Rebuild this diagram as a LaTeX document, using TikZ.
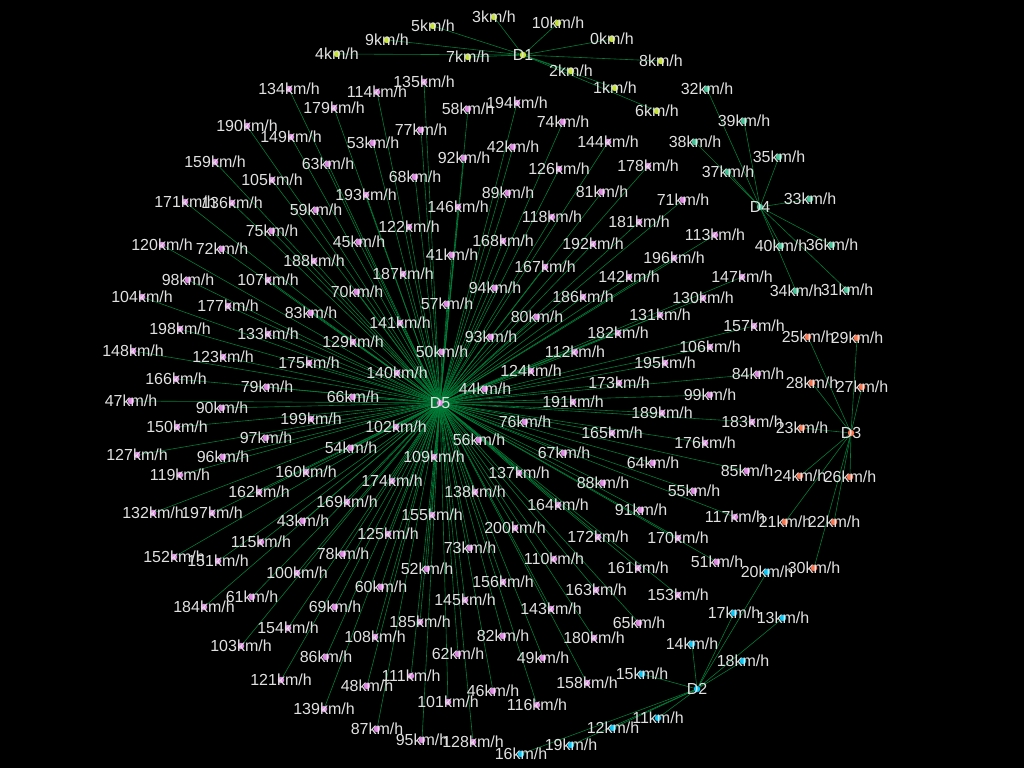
\documentclass[tikz,border=0pt]{standalone}
\usepackage{fontspec}
\setmainfont{Liberation Sans}
\usetikzlibrary{backgrounds}
\definecolor{linkgreen}{RGB}{0,125,55}
\definecolor{labgray}{RGB}{225,225,225}
\definecolor{cone}{RGB}{195,225,45}
\definecolor{ctwo}{RGB}{0,200,250}
\definecolor{cthree}{RGB}{255,115,75}
\definecolor{cfour}{RGB}{60,195,150}
\definecolor{cfive}{RGB}{225,130,230}
\begin{document}
\begin{tikzpicture}[x=1pt, y=-1pt, font=\fontsize{16}{18}\selectfont,
	spotbase/.style={circle, inner sep=0pt, minimum size=6.5pt},
	spot/.style={spotbase, label={[lab]center:#1km/h}},
	hub/.style={spotbase, label={[lab]center:#1}},
	lab/.style={text=labgray, inner sep=0pt},
	link/.style={draw=linkgreen, line width=0.6pt}]
	\useasboundingbox (0, 0) rectangle (1024, 768);
	
	% D1
	\node[hub=D1, fill=cone] (D1) at (523, 55) {};
	\node[spot=0, fill=cone] (s0) at (612, 39) {};
	\node[spot=1, fill=cone] (s1) at (615, 88) {};
	\node[spot=2, fill=cone] (s2) at (571, 71) {};
	\node[spot=3, fill=cone] (s3) at (494, 17) {};
	\node[spot=4, fill=cone] (s4) at (337, 54) {};
	\node[spot=5, fill=cone] (s5) at (433, 26) {};
	\node[spot=6, fill=cone] (s6) at (657, 111) {};
	\node[spot=7, fill=cone] (s7) at (468, 57) {};
	\node[spot=8, fill=cone] (s8) at (661, 61) {};
	\node[spot=9, fill=cone] (s9) at (387, 40) {};
	\node[spot=10, fill=cone] (s10) at (558, 23) {};
	
	% D2
	\node[hub=D2, fill=ctwo] (D2) at (697, 689) {};
	\node[spot=11, fill=ctwo] (s11) at (658, 718) {};
	\node[spot=12, fill=ctwo] (s12) at (613, 728) {};
	\node[spot=13, fill=ctwo] (s13) at (783, 618) {};
	\node[spot=14, fill=ctwo] (s14) at (692, 644) {};
	\node[spot=15, fill=ctwo] (s15) at (642, 674) {};
	\node[spot=16, fill=ctwo] (s16) at (521, 754) {};
	\node[spot=17, fill=ctwo] (s17) at (734, 613) {};
	\node[spot=18, fill=ctwo] (s18) at (743, 661) {};
	\node[spot=19, fill=ctwo] (s19) at (571, 745) {};
	\node[spot=20, fill=ctwo] (s20) at (767, 572) {};
	
	% D3
	\node[hub=D3, fill=cthree] (D3) at (851, 433) {};
	\node[spot=21, fill=cthree] (s21) at (785, 522) {};
	\node[spot=22, fill=cthree] (s22) at (834, 522) {};
	\node[spot=23, fill=cthree] (s23) at (802, 428) {};
	\node[spot=24, fill=cthree] (s24) at (800, 476) {};
	\node[spot=25, fill=cthree] (s25) at (808, 337) {};
	\node[spot=26, fill=cthree] (s26) at (850, 477) {};
	\node[spot=27, fill=cthree] (s27) at (862, 387) {};
	\node[spot=28, fill=cthree] (s28) at (812, 383) {};
	\node[spot=29, fill=cthree] (s29) at (857, 338) {};
	\node[spot=30, fill=cthree] (s30) at (814, 568) {};
	
	% D4
	\node[hub=D4, fill=cfour] (D4) at (760, 207) {};
	\node[spot=31, fill=cfour] (s31) at (847, 290) {};
	\node[spot=32, fill=cfour] (s32) at (707, 89) {};
	\node[spot=33, fill=cfour] (s33) at (810, 199) {};
	\node[spot=34, fill=cfour] (s34) at (796, 291) {};
	\node[spot=35, fill=cfour] (s35) at (779, 157) {};
	\node[spot=36, fill=cfour] (s36) at (832, 245) {};
	\node[spot=37, fill=cfour] (s37) at (728, 172) {};
	\node[spot=38, fill=cfour] (s38) at (695, 142) {};
	\node[spot=39, fill=cfour] (s39) at (744, 121) {};
	\node[spot=40, fill=cfour] (s40) at (781, 246) {};
	
	% D5
	\node[hub=D5, fill=cfive] (D5) at (440, 403) {};
	\node[spot=41, fill=cfive] (s41) at (452, 255) {};
	\node[spot=42, fill=cfive] (s42) at (513, 147) {};
	\node[spot=43, fill=cfive] (s43) at (303, 521) {};
	\node[spot=44, fill=cfive] (s44) at (485, 389) {};
	\node[spot=45, fill=cfive] (s45) at (359, 242) {};
	\node[spot=46, fill=cfive] (s46) at (493, 691) {};
	\node[spot=47, fill=cfive] (s47) at (131, 401) {};
	\node[spot=48, fill=cfive] (s48) at (367, 686) {};
	\node[spot=49, fill=cfive] (s49) at (543, 658) {};
	\node[spot=50, fill=cfive] (s50) at (442, 352) {};
	\node[spot=51, fill=cfive] (s51) at (717, 562) {};
	\node[spot=52, fill=cfive] (s52) at (427, 569) {};
	\node[spot=53, fill=cfive] (s53) at (373, 143) {};
	\node[spot=54, fill=cfive] (s54) at (351, 448) {};
	\node[spot=55, fill=cfive] (s55) at (694, 491) {};
	\node[spot=56, fill=cfive] (s56) at (479, 440) {};
	\node[spot=57, fill=cfive] (s57) at (447, 304) {};
	\node[spot=58, fill=cfive] (s58) at (468, 109) {};
	\node[spot=59, fill=cfive] (s59) at (316, 210) {};
	\node[spot=60, fill=cfive] (s60) at (381, 587) {};
	\node[spot=61, fill=cfive] (s61) at (252, 597) {};
	\node[spot=62, fill=cfive] (s62) at (458, 654) {};
	\node[spot=63, fill=cfive] (s63) at (328, 164) {};
	\node[spot=64, fill=cfive] (s64) at (653, 463) {};
	\node[spot=65, fill=cfive] (s65) at (639, 623) {};
	\node[spot=66, fill=cfive] (s66) at (353, 397) {};
	\node[spot=67, fill=cfive] (s67) at (564, 453) {};
	\node[spot=68, fill=cfive] (s68) at (415, 177) {};
	\node[spot=69, fill=cfive] (s69) at (335, 607) {};
	\node[spot=70, fill=cfive] (s70) at (357, 292) {};
	\node[spot=71, fill=cfive] (s71) at (683, 200) {};
	\node[spot=72, fill=cfive] (s72) at (222, 249) {};
	\node[spot=73, fill=cfive] (s73) at (470, 548) {};
	\node[spot=74, fill=cfive] (s74) at (563, 122) {};
	\node[spot=75, fill=cfive] (s75) at (272, 231) {};
	\node[spot=76, fill=cfive] (s76) at (525, 422) {};
	\node[spot=77, fill=cfive] (s77) at (421, 130) {};
	\node[spot=78, fill=cfive] (s78) at (343, 554) {};
	\node[spot=79, fill=cfive] (s79) at (267, 387) {};
	\node[spot=80, fill=cfive] (s80) at (537, 317) {};
	\node[spot=81, fill=cfive] (s81) at (602, 192) {};
	\node[spot=82, fill=cfive] (s82) at (503, 636) {};
	\node[spot=83, fill=cfive] (s83) at (311, 313) {};
	\node[spot=84, fill=cfive] (s84) at (758, 374) {};
	\node[spot=85, fill=cfive] (s85) at (747, 471) {};
	\node[spot=86, fill=cfive] (s86) at (326, 657) {};
	\node[spot=87, fill=cfive] (s87) at (377, 729) {};
	\node[spot=88, fill=cfive] (s88) at (603, 483) {};
	\node[spot=89, fill=cfive] (s89) at (508, 193) {};
	\node[spot=90, fill=cfive] (s90) at (222, 408) {};
	\node[spot=91, fill=cfive] (s91) at (641, 510) {};
	\node[spot=92, fill=cfive] (s92) at (464, 158) {};
	\node[spot=93, fill=cfive] (s93) at (491, 337) {};
	\node[spot=94, fill=cfive] (s94) at (495, 288) {};
	\node[spot=95, fill=cfive] (s95) at (422, 740) {};
	\node[spot=96, fill=cfive] (s96) at (223, 457) {};
	\node[spot=97, fill=cfive] (s97) at (266, 438) {};
	\node[spot=98, fill=cfive] (s98) at (188, 280) {};
	\node[spot=99, fill=cfive] (s99) at (710, 395) {};
	\node[spot=100, fill=cfive] (s100) at (297, 573) {};
	\node[spot=101, fill=cfive] (s101) at (448, 702) {};
	\node[spot=102, fill=cfive] (s102) at (396, 427) {};
	\node[spot=103, fill=cfive] (s103) at (241, 646) {};
	\node[spot=104, fill=cfive] (s104) at (142, 297) {};
	\node[spot=105, fill=cfive] (s105) at (272, 180) {};
	\node[spot=106, fill=cfive] (s106) at (710, 347) {};
	\node[spot=107, fill=cfive] (s107) at (268, 280) {};
	\node[spot=108, fill=cfive] (s108) at (375, 637) {};
	\node[spot=109, fill=cfive] (s109) at (434, 457) {};
	\node[spot=110, fill=cfive] (s110) at (554, 559) {};
	\node[spot=111, fill=cfive] (s111) at (411, 676) {};
	\node[spot=112, fill=cfive] (s112) at (575, 352) {};
	\node[spot=113, fill=cfive] (s113) at (715, 235) {};
	\node[spot=114, fill=cfive] (s114) at (377, 92) {};
	\node[spot=115, fill=cfive] (s115) at (261, 542) {};
	\node[spot=116, fill=cfive] (s116) at (537, 705) {};
	\node[spot=117, fill=cfive] (s117) at (735, 517) {};
	\node[spot=118, fill=cfive] (s118) at (552, 217) {};
	\node[spot=119, fill=cfive] (s119) at (180, 475) {};
	\node[spot=120, fill=cfive] (s120) at (162, 245) {};
	\node[spot=121, fill=cfive] (s121) at (281, 680) {};
	\node[spot=122, fill=cfive] (s122) at (409, 227) {};
	\node[spot=123, fill=cfive] (s123) at (223, 357) {};
	\node[spot=124, fill=cfive] (s124) at (531, 371) {};
	\node[spot=125, fill=cfive] (s125) at (388, 534) {};
	\node[spot=126, fill=cfive] (s126) at (559, 169) {};
	\node[spot=127, fill=cfive] (s127) at (137, 455) {};
	\node[spot=128, fill=cfive] (s128) at (473, 742) {};
	\node[spot=129, fill=cfive] (s129) at (353, 342) {};
	\node[spot=130, fill=cfive] (s130) at (703, 298) {};
	\node[spot=131, fill=cfive] (s131) at (660, 315) {};
	\node[spot=132, fill=cfive] (s132) at (153, 513) {};
	\node[spot=133, fill=cfive] (s133) at (268, 334) {};
	\node[spot=134, fill=cfive] (s134) at (289, 89) {};
	\node[spot=135, fill=cfive] (s135) at (424, 82) {};
	\node[spot=136, fill=cfive] (s136) at (232, 203) {};
	\node[spot=137, fill=cfive] (s137) at (519, 473) {};
	\node[spot=138, fill=cfive] (s138) at (475, 492) {};
	\node[spot=139, fill=cfive] (s139) at (324, 709) {};
	\node[spot=140, fill=cfive] (s140) at (397, 373) {};
	\node[spot=141, fill=cfive] (s141) at (400, 323) {};
	\node[spot=142, fill=cfive] (s142) at (629, 277) {};
	\node[spot=143, fill=cfive] (s143) at (551, 609) {};
	\node[spot=144, fill=cfive] (s144) at (608, 142) {};
	\node[spot=145, fill=cfive] (s145) at (465, 600) {};
	\node[spot=146, fill=cfive] (s146) at (458, 207) {};
	\node[spot=147, fill=cfive] (s147) at (742, 277) {};
	\node[spot=148, fill=cfive] (s148) at (133, 351) {};
	\node[spot=149, fill=cfive] (s149) at (291, 137) {};
	\node[spot=150, fill=cfive] (s150) at (177, 427) {};
	\node[spot=151, fill=cfive] (s151) at (218, 561) {};
	\node[spot=152, fill=cfive] (s152) at (174, 557) {};
	\node[spot=153, fill=cfive] (s153) at (678, 595) {};
	\node[spot=154, fill=cfive] (s154) at (288, 628) {};
	\node[spot=155, fill=cfive] (s155) at (432, 515) {};
	\node[spot=156, fill=cfive] (s156) at (503, 582) {};
	\node[spot=157, fill=cfive] (s157) at (754, 326) {};
	\node[spot=158, fill=cfive] (s158) at (587, 683) {};
	\node[spot=159, fill=cfive] (s159) at (215, 162) {};
	\node[spot=160, fill=cfive] (s160) at (306, 472) {};
	\node[spot=161, fill=cfive] (s161) at (638, 568) {};
	\node[spot=162, fill=cfive] (s162) at (259, 492) {};
	\node[spot=163, fill=cfive] (s163) at (596, 590) {};
	\node[spot=164, fill=cfive] (s164) at (558, 505) {};
	\node[spot=165, fill=cfive] (s165) at (612, 433) {};
	\node[spot=166, fill=cfive] (s166) at (176, 379) {};
	\node[spot=167, fill=cfive] (s167) at (545, 267) {};
	\node[spot=168, fill=cfive] (s168) at (503, 241) {};
	\node[spot=169, fill=cfive] (s169) at (347, 502) {};
	\node[spot=170, fill=cfive] (s170) at (678, 538) {};
	\node[spot=171, fill=cfive] (s171) at (185, 202) {};
	\node[spot=172, fill=cfive] (s172) at (598, 537) {};
	\node[spot=173, fill=cfive] (s173) at (619, 383) {};
	\node[spot=174, fill=cfive] (s174) at (392, 481) {};
	\node[spot=175, fill=cfive] (s175) at (309, 363) {};
	\node[spot=176, fill=cfive] (s176) at (705, 443) {};
	\node[spot=177, fill=cfive] (s177) at (228, 306) {};
	\node[spot=178, fill=cfive] (s178) at (648, 166) {};
	\node[spot=179, fill=cfive] (s179) at (334, 108) {};
	\node[spot=180, fill=cfive] (s180) at (594, 638) {};
	\node[spot=181, fill=cfive] (s181) at (639, 222) {};
	\node[spot=182, fill=cfive] (s182) at (618, 333) {};
	\node[spot=183, fill=cfive] (s183) at (752, 422) {};
	\node[spot=184, fill=cfive] (s184) at (204, 607) {};
	\node[spot=185, fill=cfive] (s185) at (420, 622) {};
	\node[spot=186, fill=cfive] (s186) at (583, 297) {};
	\node[spot=187, fill=cfive] (s187) at (403, 274) {};
	\node[spot=188, fill=cfive] (s188) at (314, 261) {};
	\node[spot=189, fill=cfive] (s189) at (662, 413) {};
	\node[spot=190, fill=cfive] (s190) at (247, 126) {};
	\node[spot=191, fill=cfive] (s191) at (573, 402) {};
	\node[spot=192, fill=cfive] (s192) at (593, 244) {};
	\node[spot=193, fill=cfive] (s193) at (366, 195) {};
	\node[spot=194, fill=cfive] (s194) at (517, 103) {};
	\node[spot=195, fill=cfive] (s195) at (665, 363) {};
	\node[spot=196, fill=cfive] (s196) at (674, 258) {};
	\node[spot=197, fill=cfive] (s197) at (212, 513) {};
	\node[spot=198, fill=cfive] (s198) at (180, 329) {};
	\node[spot=199, fill=cfive] (s199) at (311, 419) {};
	\node[spot=200, fill=cfive] (s200) at (515, 528) {};
	
	% links
	\begin{scope}[on background layer]
		\fill[black] (0, 0) rectangle (1024, 768);
		\foreach \i in {0,...,10} \draw[link] (D1) -- (s\i);
		\foreach \i in {11,...,20} \draw[link] (D2) -- (s\i);
		\foreach \i in {21,...,30} \draw[link] (D3) -- (s\i);
		\foreach \i in {31,...,40} \draw[link] (D4) -- (s\i);
		\foreach \i in {41,...,200} \draw[link] (D5) -- (s\i);
	\end{scope}
\end{tikzpicture}
\end{document}
